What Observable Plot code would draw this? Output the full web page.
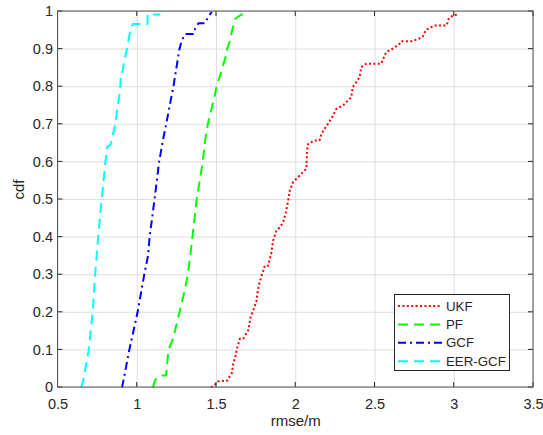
<!DOCTYPE html>
<html>
<head>
<meta charset="utf-8">
<script src="https://cdn.jsdelivr.net/npm/d3@7"></script>
<script src="https://cdn.jsdelivr.net/npm/@observablehq/plot@0.6"></script>
<style>
  html, body { margin: 0; padding: 0; background: #fff; }
  #wrap { position: relative; width: 543px; height: 435px; }
  #legend { position: absolute; left: 394px; top: 294px; }
</style>
</head>
<body>
<div id="wrap"></div>
<script>
// ---- data ----
const seriesNames = ["UKF", "PF", "GCF", "EER-GCF"];

const ukfX = [1.465,1.49,1.51,1.533,1.564,1.596,1.606,1.623,1.631,1.648,1.669,1.7,1.715,1.732,1.753,1.757,1.769,1.784,1.795,1.805,1.826,1.847,1.857,1.878,1.9,1.92,1.937,1.952,1.962,1.983,2.004,2.046,2.067,2.071,2.078,2.12,2.15,2.162,2.182,2.203,2.235,2.256,2.298,2.329,2.35,2.36,2.382,2.403,2.413,2.445,2.539,2.57,2.612,2.654,2.665,2.738,2.8,2.822,2.853,2.874,2.952,2.964,2.989,3.02];
const ukfCdf = [0,0.008,0.016,0.017,0.017,0.037,0.063,0.089,0.107,0.13,0.13,0.152,0.187,0.205,0.231,0.249,0.275,0.297,0.31,0.324,0.324,0.36,0.391,0.417,0.426,0.439,0.465,0.497,0.524,0.546,0.555,0.573,0.582,0.63,0.648,0.657,0.657,0.675,0.688,0.701,0.723,0.741,0.75,0.763,0.772,0.799,0.812,0.825,0.852,0.861,0.861,0.892,0.901,0.914,0.921,0.921,0.932,0.951,0.958,0.963,0.963,0.98,0.989,0.992];

const pfX = [1.099,1.113,1.145,1.182,1.197,1.226,1.266,1.295,1.319,1.338,1.348,1.375,1.413,1.428,1.445,1.491,1.5,1.558,1.564,1.585,1.606,1.616,1.658,1.69];
const pfCdf = [0,0.02,0.032,0.032,0.1,0.13,0.2,0.25,0.3,0.364,0.4,0.5,0.6,0.657,0.7,0.78,0.8,0.88,0.896,0.923,0.963,0.98,0.992,0.992];

const gcfX = [0.904,0.913,0.95,1.002,1.044,1.068,1.078,1.109,1.138,1.162,1.182,1.228,1.266,1.281,1.302,1.354,1.365,1.386,1.428,1.449,1.47];
const gcfCdf = [0,0.019,0.1,0.2,0.3,0.35,0.4,0.5,0.6,0.657,0.7,0.8,0.9,0.923,0.94,0.94,0.954,0.969,0.969,0.987,0.999];

const eerX = [0.646,0.66,0.694,0.719,0.734,0.746,0.753,0.776,0.799,0.81,0.83,0.84,0.862,0.876,0.888,0.893,0.897,0.905,0.918,0.935,0.956,0.973,1.065,1.065,1.145];
const eerCdf = [0,0.019,0.1,0.2,0.3,0.36,0.4,0.5,0.6,0.64,0.645,0.66,0.7,0.75,0.78,0.8,0.835,0.835,0.87,0.9,0.95,0.967,0.967,0.992,0.992];

const xTicks = [0.5, 1, 1.5, 2, 2.5, 3, 3.5];
const yTicks = [0, 0.1, 0.2, 0.3, 0.4, 0.5, 0.6, 0.7, 0.8, 0.9, 1];
const xLabel = "rmse/m";
const yLabel = "cdf";

// ---- styles ----
const colors = ["#ff0000", "#00ff00", "#0000ff", "#00ffff"];
const dashes = ["2,2.4", "10,6", "8,4,2,4", "10,6"];

const raw = [[ukfX, ukfCdf], [pfX, pfCdf], [gcfX, gcfCdf], [eerX, eerCdf]];
const series = raw.map(([xs, ys], i) => xs.map((x, j) => ({x, y: ys[j], name: seriesNames[i]})));

const lineMarks = series.map((data, i) => Plot.line(data, {
  x: "x", y: "y", stroke: colors[i], strokeWidth: 2,
  strokeDasharray: dashes[i], strokeLinecap: "butt", strokeLinejoin: "miter"
}));

const chart = Plot.plot({
  width: 543, height: 435,
  marginLeft: 57.5, marginRight: 10, marginTop: 11, marginBottom: 48,
  style: {fontFamily: "'Liberation Sans', Arial, sans-serif", fontSize: "14px", color: "#262626", background: "#fff"},
  x: {domain: [0.5, 3.5], ticks: xTicks, label: null},
  y: {domain: [0, 1], ticks: yTicks, label: null},
  marks: [
    Plot.gridX(xTicks, {stroke: "#dfdfdf", strokeOpacity: 1}),
    Plot.gridY(yTicks, {stroke: "#dfdfdf", strokeOpacity: 1}),
    ...lineMarks,
    Plot.axisX(xTicks, {tickSize: 0, tickPadding: 11, fontSize: 14.5, fill: "#262626", tickFormat: d => String(d)}),
    Plot.axisY(yTicks, {tickSize: 0, tickPadding: 5, fontSize: 14.5, fill: "#262626", tickFormat: d => String(d)}),
    Plot.text([xLabel], {text: d => d, frameAnchor: "bottom", dy: 38, fontSize: 15, fill: "#262626"}),
    Plot.text([yLabel], {text: d => d, frameAnchor: "left", dx: -39, rotate: -90, fontSize: 15, fill: "#262626"})
  ]
});

document.getElementById("wrap").appendChild(chart);

// ---- MATLAB-style box and inward ticks, through Plot's scales ----
const sx = chart.scale("x"), sy = chart.scale("y");
const svg = d3.select(chart);
const x0 = sx.apply(0.5), x1 = sx.apply(3.5), y0 = sy.apply(0), y1 = sy.apply(1);
const g = svg.append("g").attr("stroke", "#262626").attr("fill", "none");
const tk = 5;
xTicks.forEach(t => {
  const px = sx.apply(t);
  g.append("line").attr("x1", px).attr("x2", px).attr("y1", y0).attr("y2", y0 - tk);
  g.append("line").attr("x1", px).attr("x2", px).attr("y1", y1).attr("y2", y1 + tk);
});
yTicks.forEach(t => {
  const py = sy.apply(t);
  g.append("line").attr("x1", x0).attr("x2", x0 + tk).attr("y1", py).attr("y2", py);
  g.append("line").attr("x1", x1).attr("x2", x1 - tk).attr("y1", py).attr("y2", py);
});
g.append("rect").attr("x", x0).attr("y", y1).attr("width", x1 - x0).attr("height", y0 - y1)
  .attr("stroke", "#555").attr("stroke-width", 1);

// ---- legend ----
const lw = 116, lh = 77, rowH = 18.4;
const leg = d3.select("#wrap").append("div").attr("id", "legend")
  .append("svg").attr("width", lw).attr("height", lh);
leg.append("rect").attr("x", 0.5).attr("y", 0.5).attr("width", lw - 1).attr("height", lh - 1)
  .attr("fill", "#fff").attr("stroke", "#262626").attr("stroke-width", 1);
seriesNames.forEach((name, i) => {
  const cy = 12 + i * rowH;
  leg.append("line").attr("x1", 4).attr("x2", 48).attr("y1", cy).attr("y2", cy)
    .attr("stroke", colors[i]).attr("stroke-width", 2).attr("stroke-dasharray", dashes[i]);
  leg.append("text").attr("x", 52).attr("y", cy).attr("dy", "0.35em")
    .attr("font-family", "'Liberation Sans', Arial, sans-serif").attr("font-size", 13.3)
    .attr("fill", "#262626").text(name);
});
</script>
</body>
</html>
